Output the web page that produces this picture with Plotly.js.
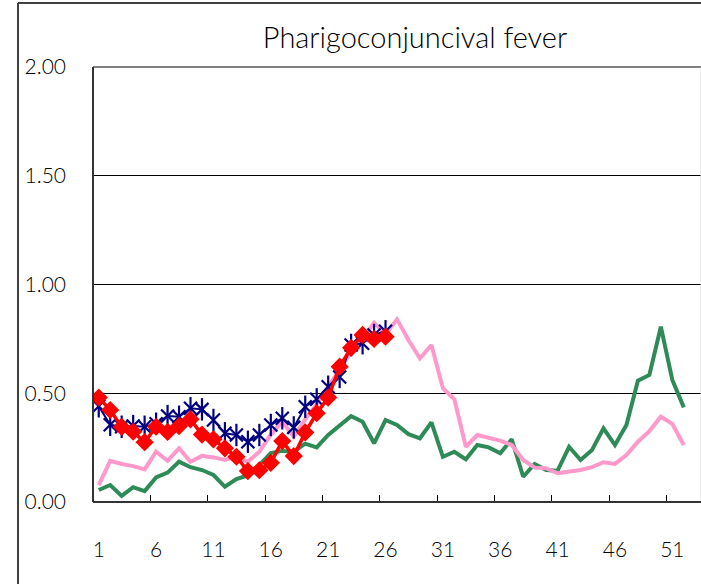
<!DOCTYPE html>
<html>
<head>
<meta charset="utf-8">
<script src="https://cdn.plot.ly/plotly-3.0.1.min.js"></script>
<style>
html,body{margin:0;padding:0;background:#fff;}
#chart{width:701px;height:584px;}
</style>
</head>
<body>
<div id="chart"></div>
<script>
// Weeks (categories)
var weeks = [1,2,3,4,5,6,7,8,9,10,11,12,13,14,15,16,17,18,19,20,21,22,23,24,25,26,
             27,28,29,30,31,32,33,34,35,36,37,38,39,40,41,42,43,44,45,46,47,48,49,50,51,52];
var currentWeeks = [1,2,3,4,5,6,7,8,9,10,11,12,13,14,15,16,17,18,19,20,21,22,23,24,25,26];

// Series values
var greenSeries = [0.055,0.078,0.028,0.068,0.050,0.113,0.135,0.185,0.160,0.147,
                   0.124,0.070,0.105,0.122,0.170,0.225,0.235,0.231,0.268,0.251,
                   0.308,0.354,0.395,0.369,0.270,0.377,0.354,0.312,0.293,0.366,
                   0.208,0.231,0.196,0.262,0.251,0.224,0.288,0.116,0.175,0.147,
                   0.144,0.254,0.193,0.239,0.339,0.262,0.354,0.558,0.584,0.806,
                   0.561,0.435];
var pinkSeries = [0.078,0.189,0.175,0.165,0.150,0.231,0.189,0.247,0.185,0.212,
                  0.205,0.193,0.210,0.185,0.231,0.310,0.370,0.300,0.380,0.450,
                  0.530,0.610,0.690,0.750,0.825,0.770,0.840,0.745,0.660,0.722,
                  0.523,0.472,0.254,0.308,0.293,0.282,0.262,0.193,0.158,0.155,
                  0.132,0.139,0.147,0.160,0.183,0.175,0.216,0.277,0.326,0.392,
                  0.359,0.262];
var navySeries = [0.440,0.355,0.346,0.349,0.346,0.360,0.395,0.392,0.431,0.426,
                  0.377,0.316,0.308,0.277,0.308,0.354,0.385,0.343,0.438,0.472,
                  0.530,0.575,0.722,0.730,0.768,0.785];
var redSeries = [0.480,0.423,0.345,0.323,0.275,0.346,0.322,0.349,0.380,0.310,
                 0.288,0.247,0.208,0.142,0.146,0.180,0.280,0.211,0.320,0.408,
                 0.480,0.622,0.709,0.768,0.750,0.760];

var xLabels = [1,6,11,16,21,26,31,36,41,46,51];
var xTickMarks = [5.5,10.5,15.5,20.5,25.5,30.5,35.5,40.5,45.5,50.5];
var yTicks = [0,0.5,1,1.5,2];
var titleText = 'Pharigoconjuncival fever';

var FONT = 'Lato, "Liberation Sans", sans-serif';

var traces = [
  {x: weeks, y: greenSeries, type: 'scatter', mode: 'lines',
   line: {color: '#2E8B57', width: 4}, hoverinfo: 'skip'},
  {x: weeks, y: pinkSeries, type: 'scatter', mode: 'lines',
   line: {color: '#FF99CC', width: 4}, hoverinfo: 'skip'},
  {x: currentWeeks, y: navySeries, type: 'scatter', mode: 'lines+markers',
   line: {color: '#000080', width: 2},
   marker: {symbol: 'x-thin-open', size: 13, color: '#000080', line: {color: '#000080', width: 2.2}},
   hoverinfo: 'skip'},
  {x: currentWeeks, y: navySeries, type: 'scatter', mode: 'markers',
   marker: {symbol: 'line-ns-open', size: 16, color: '#000080', line: {color: '#000080', width: 2.2}},
   hoverinfo: 'skip'},
  {x: currentWeeks, y: redSeries, type: 'scatter', mode: 'lines+markers',
   line: {color: '#FF0000', width: 3.5},
   marker: {symbol: 'diamond', size: 14, color: '#FF0000'},
   hoverinfo: 'skip'},
  // invisible trace to activate xaxis2 (tick marks)
  {x: [0.5, 53.5], y: [0, 0], xaxis: 'x2', type: 'scatter', mode: 'lines',
   line: {width: 0}, opacity: 0, hoverinfo: 'skip'}
];

var layout = {
  width: 701, height: 584,
  margin: {l: 93, r: 0, t: 67, b: 82, pad: 0},
  paper_bgcolor: '#ffffff', plot_bgcolor: '#ffffff',
  showlegend: false,
  font: {family: FONT, color: '#000000', size: 21, weight: 300},
  title: {text: titleText, x: 415/701, xanchor: 'center', xref: 'container',
          y: 1 - 38/584, yanchor: 'middle', yref: 'container',
          font: {family: FONT, size: 29, color: '#000000', weight: 300}},
  xaxis: {range: [0.5, 53.5], tickvals: xLabels, ticktext: xLabels.map(String),
          ticks: '', showgrid: false, zeroline: false, showline: false,
          ticklabelstandoff: 33, tickfont: {family: FONT, size: 21, color: '#000', weight: 300},
          fixedrange: true},
  xaxis2: {range: [0.5, 53.5], overlaying: 'x', anchor: 'y', side: 'bottom',
           tickvals: xTickMarks, ticks: 'inside', ticklen: 7, tickwidth: 1,
           tickcolor: '#000000', showticklabels: false, showgrid: false,
           zeroline: false, showline: false},
  yaxis: {range: [0, 2], tickvals: yTicks, tickformat: '.2f', ticks: '',
          showgrid: true, gridcolor: '#000000', gridwidth: 1, zeroline: false,
          showline: false, ticklabelstandoff: 26,
          tickfont: {family: FONT, size: 21, color: '#000', weight: 300}, fixedrange: true},
  shapes: [
    {type: 'line', xref: 'paper', yref: 'paper', x0: 0, x1: 1, y0: 1, y1: 1,
     line: {color: '#808080', width: 2}},
    {type: 'line', xref: 'paper', yref: 'paper', x0: 1, x1: 1, y0: 0, y1: 1,
     line: {color: '#d8d8d8', width: 1}},
    {type: 'line', xref: 'paper', yref: 'paper', x0: 0, x1: 0, y0: 0, y1: 1,
     line: {color: '#333333', width: 2}},
    {type: 'line', xref: 'paper', yref: 'paper', x0: 0, x1: 1, y0: 0, y1: 0,
     line: {color: '#333333', width: 2}},
    {type: 'line', xref: 'paper', yref: 'paper', x0: (18-93)/608, x1: (18-93)/608,
     y0: (502-3)/435, y1: (502-590)/435, line: {color: '#404040', width: 2}},
    {type: 'line', xref: 'paper', yref: 'paper', x0: (18-93)/608, x1: 1.02,
     y0: (502-3)/435, y1: (502-3)/435, line: {color: '#404040', width: 2}}
  ]
};

Plotly.newPlot('chart', traces, layout, {displayModeBar: false, staticPlot: true});
</script>
</body>
</html>
